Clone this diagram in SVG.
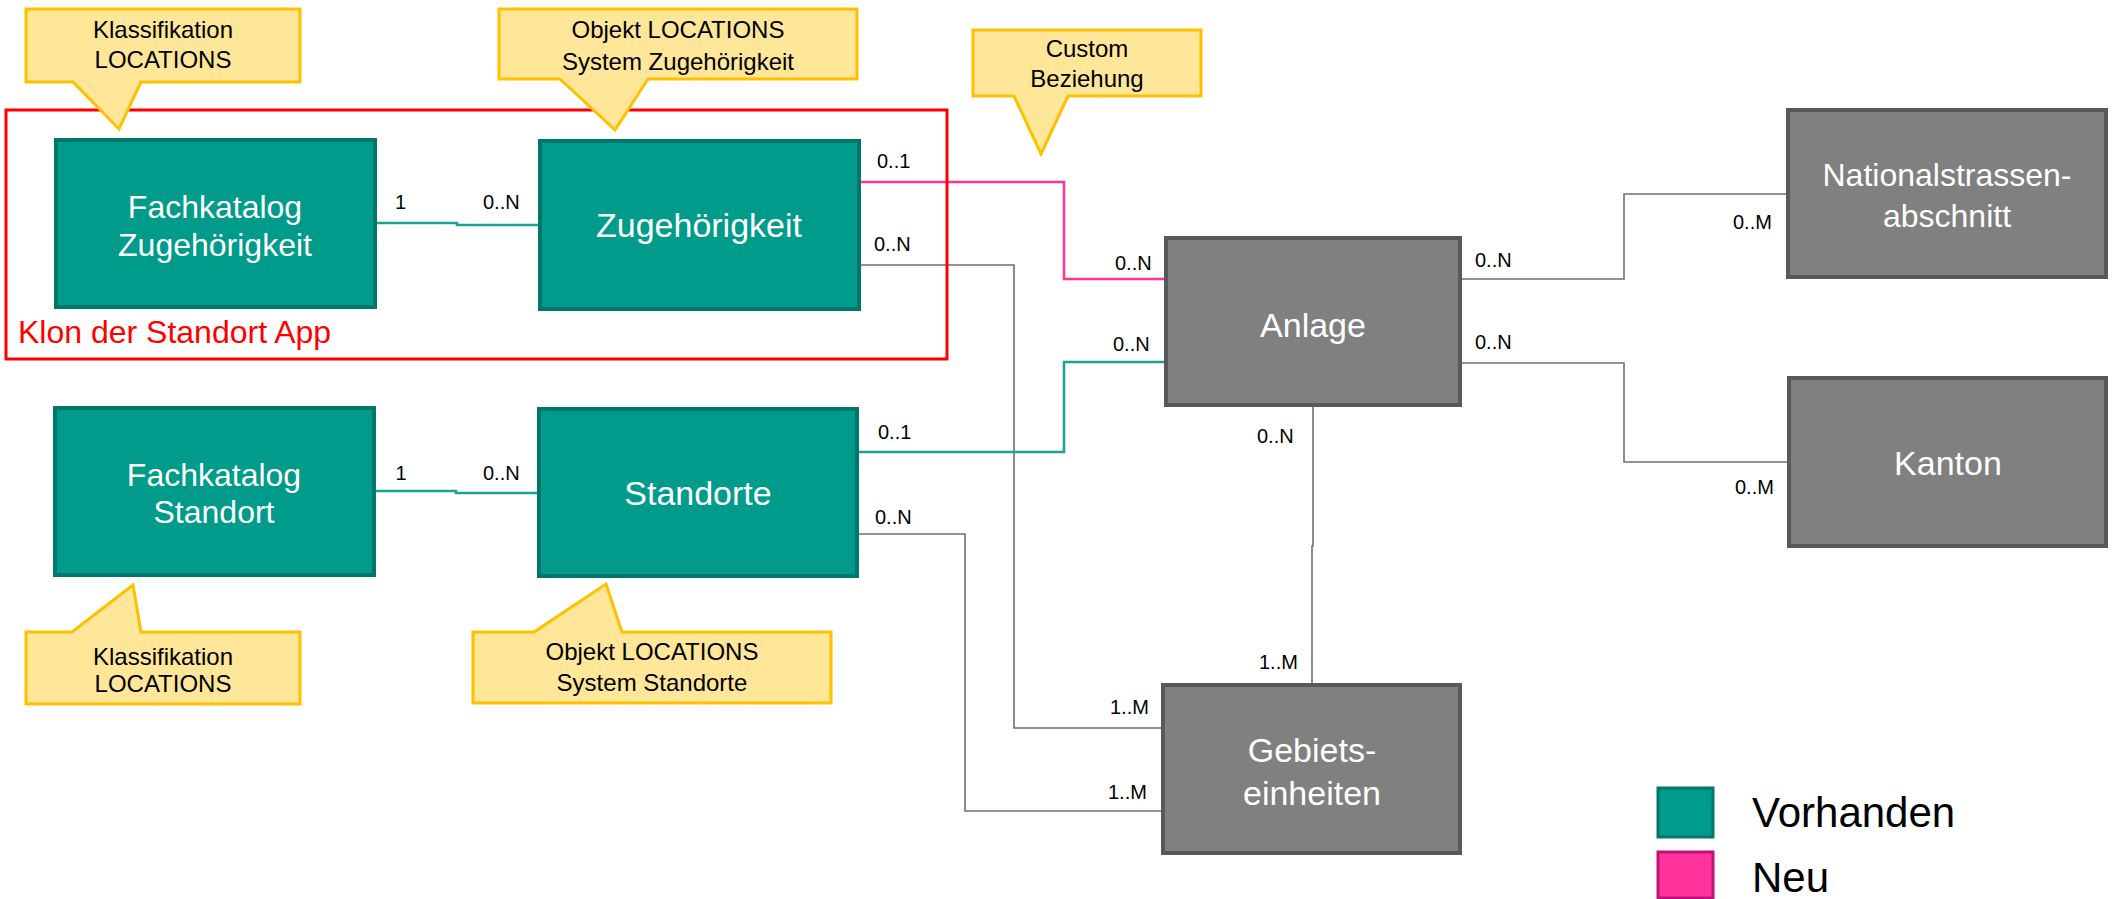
<svg xmlns="http://www.w3.org/2000/svg" width="2112" height="899" viewBox="0 0 2112 899">
<style>
.teal{fill:#009B8A;stroke:#00776A;stroke-width:4}
.gray{fill:#808080;stroke:#595959;stroke-width:4}
.nt{font-family:"Liberation Sans",Arial,sans-serif;font-size:32px;fill:#FFFFFF;text-anchor:middle}
.nb{font-size:34px}
.lbl{font-family:"Liberation Sans",Arial,sans-serif;font-size:20px;fill:#000000}
.ct{font-family:"Liberation Sans",Arial,sans-serif;font-size:24px;fill:#000000;text-anchor:middle}
.co{fill:#FFE699;stroke:#FFC000;stroke-width:3}
.cl{fill:none;stroke-width:2.5}
.cg{fill:none;stroke:#707070;stroke-width:1.6}
.leg{font-family:"Liberation Sans",Arial,sans-serif;font-size:42px;fill:#000000}
</style>
<rect width="2112" height="899" fill="#FFFFFF"/>
<g id="connectors">
<polyline class="cl" stroke="#1AA395" points="375,223 457,223 457,225 540,225"/>
<polyline class="cl" stroke="#1AA395" points="374,491 456,491 456,493 539,493"/>
<polyline class="cl" stroke="#FF3399" points="859,182 1064,182 1064,279 1166,279"/>
<polyline class="cg" points="859,265 1014,265 1014,728 1163,728"/>
<polyline class="cl" stroke="#1AA395" points="857,452 1064,452 1064,362 1166,362"/>
<polyline class="cg" points="857,534 965,534 965,811 1163,811"/>
<polyline class="cg" points="1460,279 1624,279 1624,194 1788,194"/>
<polyline class="cg" points="1460,363 1624,363 1624,462 1789,462"/>
<polyline class="cg" points="1313,405 1313,546 1312,546 1312,685"/>
<text class="lbl" x="395" y="209">1</text>
<text class="lbl" x="483" y="209">0..N</text>
<text class="lbl" x="401" y="480" text-anchor="middle">1</text>
<text class="lbl" x="483" y="480">0..N</text>
<text class="lbl" x="877" y="168">0..1</text>
<text class="lbl" x="874" y="251">0..N</text>
<text class="lbl" x="878" y="439">0..1</text>
<text class="lbl" x="875" y="524">0..N</text>
<text class="lbl" x="1115" y="270">0..N</text>
<text class="lbl" x="1113" y="351">0..N</text>
<text class="lbl" x="1475" y="267">0..N</text>
<text class="lbl" x="1475" y="349">0..N</text>
<text class="lbl" x="1733" y="229">0..M</text>
<text class="lbl" x="1735" y="494">0..M</text>
<text class="lbl" x="1257" y="443">0..N</text>
<text class="lbl" x="1259" y="669">1..M</text>
<text class="lbl" x="1110" y="714">1..M</text>
<text class="lbl" x="1108" y="799">1..M</text>
</g>
<g id="fachkatalog-zugehoerigkeit">
<rect class="teal" x="56" y="140" width="319" height="167"/>
<text class="nt" x="215" y="218">Fachkatalog</text>
<text class="nt" x="215" y="256">Zugehörigkeit</text>
</g>
<g id="zugehoerigkeit">
<rect class="teal" x="540" y="141" width="319" height="168"/>
<text class="nt nb" x="699" y="237">Zugehörigkeit</text>
</g>
<g id="fachkatalog-standort">
<rect class="teal" x="55" y="408" width="319" height="167"/>
<text class="nt" x="214" y="486">Fachkatalog</text>
<text class="nt" x="214" y="523">Standort</text>
</g>
<g id="standorte">
<rect class="teal" x="539" y="409" width="318" height="167"/>
<text class="nt nb" x="698" y="505">Standorte</text>
</g>
<g id="anlage">
<rect class="gray" x="1166" y="238" width="294" height="167"/>
<text class="nt nb" x="1313" y="337">Anlage</text>
</g>
<g id="nationalstrassenabschnitt">
<rect class="gray" x="1788" y="110" width="318" height="167"/>
<text class="nt" x="1947" y="186">Nationalstrassen-</text>
<text class="nt" x="1947" y="227">abschnitt</text>
</g>
<g id="kanton">
<rect class="gray" x="1789" y="378" width="317" height="168"/>
<text class="nt nb" x="1948" y="475">Kanton</text>
</g>
<g id="gebietseinheiten">
<rect class="gray" x="1163" y="685" width="297" height="168"/>
<text class="nt nb" x="1312" y="762">Gebiets-</text>
<text class="nt nb" x="1312" y="805">einheiten</text>
</g>
<g id="klon-frame">
<rect x="6" y="110" width="941" height="249" fill="none" stroke="#FF0000" stroke-width="3"/>
<text x="18" y="343" font-family="Liberation Sans, Arial, sans-serif" font-size="32" fill="#FF0000">Klon der Standort App</text>
</g>
<g id="callout-klassifikation-top">
<path class="co" d="M26,9 H300 V82 H141 L119,129 L73,82 H26 Z"/>
<text class="ct" x="163" y="38">Klassifikation</text>
<text class="ct" x="163" y="68">LOCATIONS</text>
</g>
<g id="callout-objekt-zugehoerigkeit">
<path class="co" d="M499,9 H857 V79 H648 L615,130 L560,79 H499 Z"/>
<text class="ct" x="678" y="38">Objekt LOCATIONS</text>
<text class="ct" x="678" y="70">System Zugehörigkeit</text>
</g>
<g id="callout-custom">
<path class="co" d="M973,30 H1201 V96 H1068 L1041,154 L1014,96 H973 Z"/>
<text class="ct" x="1087" y="57">Custom</text>
<text class="ct" x="1087" y="87">Beziehung</text>
</g>
<g id="callout-klassifikation-bottom">
<path class="co" d="M26,632 H72 L133,585 L141,632 H300 V704 H26 Z"/>
<text class="ct" x="163" y="665">Klassifikation</text>
<text class="ct" x="163" y="692">LOCATIONS</text>
</g>
<g id="callout-objekt-standorte">
<path class="co" d="M473,632 H534 L606,584 L622,632 H831 V703 H473 Z"/>
<text class="ct" x="652" y="660">Objekt LOCATIONS</text>
<text class="ct" x="652" y="691">System Standorte</text>
</g>
<g id="legend">
<rect x="1658" y="788" width="55" height="49" fill="#009B8A" stroke="#00776A" stroke-width="3"/>
<rect x="1658" y="852" width="55" height="46" fill="#FF3399" stroke="#C0127A" stroke-width="3"/>
<text class="leg" x="1752" y="827">Vorhanden</text>
<text class="leg" x="1752" y="892">Neu</text>
</g>
</svg>
